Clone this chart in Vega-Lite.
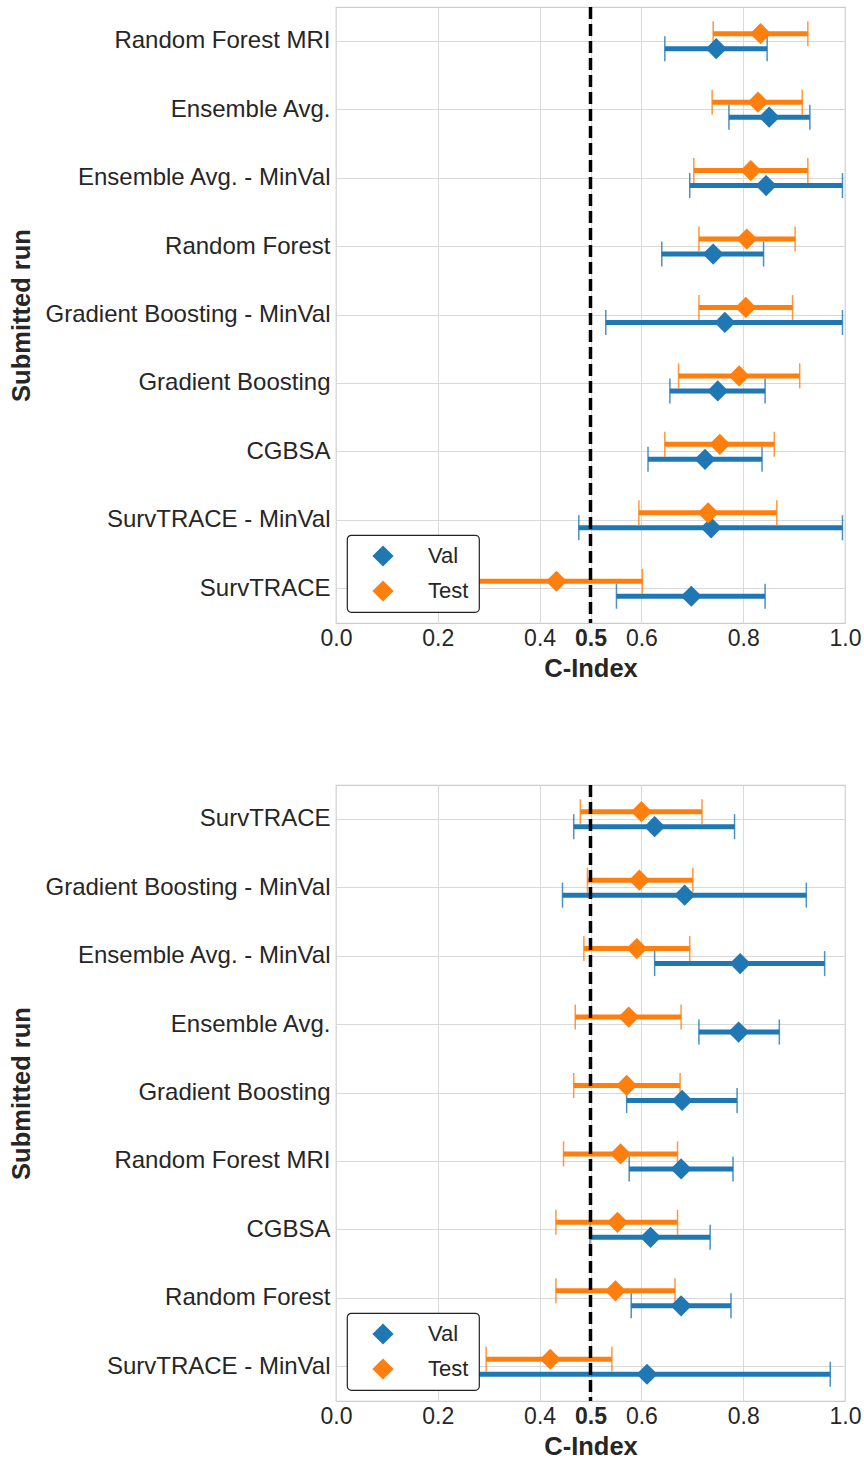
{
  "$schema": "https://vega.github.io/schema/vega-lite/v6.json",
  "padding": {"left": 8, "top": 4, "right": 14, "bottom": 2},
  "background": "white",
  "datasets": {
    "top": [
      {"run": "Random Forest MRI", "set": "Val", "lo": 0.646, "c": 0.747, "hi": 0.847},
      {"run": "Random Forest MRI", "set": "Test", "lo": 0.741, "c": 0.834, "hi": 0.927},
      {"run": "Ensemble Avg.", "set": "Val", "lo": 0.772, "c": 0.851, "hi": 0.931},
      {"run": "Ensemble Avg.", "set": "Test", "lo": 0.739, "c": 0.829, "hi": 0.916},
      {"run": "Ensemble Avg. - MinVal", "set": "Val", "lo": 0.695, "c": 0.845, "hi": 0.995},
      {"run": "Ensemble Avg. - MinVal", "set": "Test", "lo": 0.703, "c": 0.815, "hi": 0.927},
      {"run": "Random Forest", "set": "Val", "lo": 0.640, "c": 0.741, "hi": 0.840},
      {"run": "Random Forest", "set": "Test", "lo": 0.713, "c": 0.807, "hi": 0.902},
      {"run": "Gradient Boosting - MinVal", "set": "Val", "lo": 0.530, "c": 0.764, "hi": 0.995},
      {"run": "Gradient Boosting - MinVal", "set": "Test", "lo": 0.713, "c": 0.805, "hi": 0.897},
      {"run": "Gradient Boosting", "set": "Val", "lo": 0.656, "c": 0.750, "hi": 0.843},
      {"run": "Gradient Boosting", "set": "Test", "lo": 0.673, "c": 0.792, "hi": 0.911},
      {"run": "CGBSA", "set": "Val", "lo": 0.613, "c": 0.725, "hi": 0.837},
      {"run": "CGBSA", "set": "Test", "lo": 0.646, "c": 0.754, "hi": 0.861},
      {"run": "SurvTRACE - MinVal", "set": "Val", "lo": 0.477, "c": 0.737, "hi": 0.995},
      {"run": "SurvTRACE - MinVal", "set": "Test", "lo": 0.595, "c": 0.731, "hi": 0.866},
      {"run": "SurvTRACE", "set": "Val", "lo": 0.551, "c": 0.698, "hi": 0.843},
      {"run": "SurvTRACE", "set": "Test", "lo": 0.264, "c": 0.433, "hi": 0.602}
    ],
    "bottom": [
      {"run": "SurvTRACE", "set": "Val", "lo": 0.467, "c": 0.626, "hi": 0.783},
      {"run": "SurvTRACE", "set": "Test", "lo": 0.480, "c": 0.600, "hi": 0.719},
      {"run": "Gradient Boosting - MinVal", "set": "Val", "lo": 0.445, "c": 0.685, "hi": 0.924},
      {"run": "Gradient Boosting - MinVal", "set": "Test", "lo": 0.494, "c": 0.596, "hi": 0.701},
      {"run": "Ensemble Avg. - MinVal", "set": "Val", "lo": 0.626, "c": 0.794, "hi": 0.960},
      {"run": "Ensemble Avg. - MinVal", "set": "Test", "lo": 0.487, "c": 0.591, "hi": 0.695},
      {"run": "Ensemble Avg.", "set": "Val", "lo": 0.713, "c": 0.791, "hi": 0.871},
      {"run": "Ensemble Avg.", "set": "Test", "lo": 0.470, "c": 0.575, "hi": 0.678},
      {"run": "Gradient Boosting", "set": "Val", "lo": 0.571, "c": 0.680, "hi": 0.788},
      {"run": "Gradient Boosting", "set": "Test", "lo": 0.467, "c": 0.571, "hi": 0.676},
      {"run": "Random Forest MRI", "set": "Val", "lo": 0.576, "c": 0.678, "hi": 0.780},
      {"run": "Random Forest MRI", "set": "Test", "lo": 0.447, "c": 0.559, "hi": 0.671},
      {"run": "CGBSA", "set": "Val", "lo": 0.499, "c": 0.618, "hi": 0.735},
      {"run": "CGBSA", "set": "Test", "lo": 0.432, "c": 0.553, "hi": 0.671},
      {"run": "Random Forest", "set": "Val", "lo": 0.580, "c": 0.678, "hi": 0.776},
      {"run": "Random Forest", "set": "Test", "lo": 0.432, "c": 0.549, "hi": 0.666},
      {"run": "SurvTRACE - MinVal", "set": "Val", "lo": 0.251, "c": 0.611, "hi": 0.971},
      {"run": "SurvTRACE - MinVal", "set": "Test", "lo": 0.295, "c": 0.421, "hi": 0.542}
    ]
  },
  "spacing": 99,
  "vconcat": [
    {
      "width": 509,
      "height": 616,
      "data": {"name": "top"},
      "encoding": {
        "y": {"field": "run", "type": "nominal", "title": "Submitted run",
              "scale": {"domain": ["Random Forest MRI", "Ensemble Avg.", "Ensemble Avg. - MinVal", "Random Forest", "Gradient Boosting - MinVal", "Gradient Boosting", "CGBSA", "SurvTRACE - MinVal", "SurvTRACE"], "paddingInner": 0, "paddingOuter": 0},
              "axis": {"grid": true, "titleX": -315, "titleY": 308, "titleAngle": -90, "titleAlign": "center", "titleBaseline": "middle"}},
        "yOffset": {"field": "set", "type": "nominal", "scale": {"type": "point", "domain": ["Test", "Val"], "range": [26.7, 41.7], "padding": 0}}
      },
      "layer": [
        {"mark": {"type": "rule", "strokeWidth": 5}, "encoding": {
          "x": {"field": "lo", "type": "quantitative", "title": "C-Index", "scale": {"domain": [0, 1], "nice": false}, "axis": {"values": [0, 0.2, 0.4, 0.5, 0.6, 0.8, 1.0], "format": ".1f", "labelFontWeight": {"condition": {"test": "datum.value == 0.5", "value": "bold"}, "value": "normal"}}},
          "x2": {"field": "hi"},
          "stroke": {"field": "set", "type": "nominal", "scale": {"domain": ["Test", "Val"], "range": ["#ff7f0e", "#1f77b4"]}, "legend": null}}},
        {"mark": {"type": "point", "shape": "M0,-1L0,1", "filled": false, "size": 625, "strokeWidth": 1.5, "opacity": 0.8}, "encoding": {"x": {"field": "lo", "type": "quantitative"}, "stroke": {"field": "set", "type": "nominal", "legend": null}}},
        {"mark": {"type": "point", "shape": "M0,-1L0,1", "filled": false, "size": 625, "strokeWidth": 1.5, "opacity": 0.8}, "encoding": {"x": {"field": "hi", "type": "quantitative"}, "stroke": {"field": "set", "type": "nominal", "legend": null}}},
        {"mark": {"type": "point", "shape": "diamond", "filled": true, "size": 450, "opacity": 1}, "encoding": {
          "x": {"field": "c", "type": "quantitative"},
          "color": {"field": "set", "type": "nominal", "scale": {"domain": ["Val", "Test"], "range": ["#1f77b4", "#ff7f0e"]}, "legend": {"title": null, "orient": "none", "legendX": 11, "legendY": 528, "symbolType": "diamond"}}}},
        {"data": {"values": [{"v": 0.5}]}, "mark": {"type": "rule", "color": "black", "strokeWidth": 3.5, "strokeDash": [12, 5]}, "encoding": {"x": {"field": "v", "type": "quantitative"}, "y": {"value": 0}, "y2": {"value": 616}, "yOffset": null}}
      ]
    },
    {
      "width": 509,
      "height": 616,
      "data": {"name": "bottom"},
      "encoding": {
        "y": {"field": "run", "type": "nominal", "title": "Submitted run",
              "scale": {"domain": ["SurvTRACE", "Gradient Boosting - MinVal", "Ensemble Avg. - MinVal", "Ensemble Avg.", "Gradient Boosting", "Random Forest MRI", "CGBSA", "Random Forest", "SurvTRACE - MinVal"], "paddingInner": 0, "paddingOuter": 0},
              "axis": {"grid": true, "titleX": -315, "titleY": 308, "titleAngle": -90, "titleAlign": "center", "titleBaseline": "middle"}},
        "yOffset": {"field": "set", "type": "nominal", "scale": {"type": "point", "domain": ["Test", "Val"], "range": [26.7, 41.7], "padding": 0}}
      },
      "layer": [
        {"mark": {"type": "rule", "strokeWidth": 5}, "encoding": {
          "x": {"field": "lo", "type": "quantitative", "title": "C-Index", "scale": {"domain": [0, 1], "nice": false}, "axis": {"values": [0, 0.2, 0.4, 0.5, 0.6, 0.8, 1.0], "format": ".1f", "labelFontWeight": {"condition": {"test": "datum.value == 0.5", "value": "bold"}, "value": "normal"}}},
          "x2": {"field": "hi"},
          "stroke": {"field": "set", "type": "nominal", "scale": {"domain": ["Test", "Val"], "range": ["#ff7f0e", "#1f77b4"]}, "legend": null}}},
        {"mark": {"type": "point", "shape": "M0,-1L0,1", "filled": false, "size": 625, "strokeWidth": 1.5, "opacity": 0.8}, "encoding": {"x": {"field": "lo", "type": "quantitative"}, "stroke": {"field": "set", "type": "nominal", "legend": null}}},
        {"mark": {"type": "point", "shape": "M0,-1L0,1", "filled": false, "size": 625, "strokeWidth": 1.5, "opacity": 0.8}, "encoding": {"x": {"field": "hi", "type": "quantitative"}, "stroke": {"field": "set", "type": "nominal", "legend": null}}},
        {"mark": {"type": "point", "shape": "diamond", "filled": true, "size": 450, "opacity": 1}, "encoding": {
          "x": {"field": "c", "type": "quantitative"},
          "color": {"field": "set", "type": "nominal", "scale": {"domain": ["Val", "Test"], "range": ["#1f77b4", "#ff7f0e"]}, "legend": {"title": null, "orient": "none", "legendX": 11, "legendY": 528, "symbolType": "diamond"}}}},
        {"data": {"values": [{"v": 0.5}]}, "mark": {"type": "rule", "color": "black", "strokeWidth": 3.5, "strokeDash": [12, 5]}, "encoding": {"x": {"field": "v", "type": "quantitative"}, "y": {"value": 0}, "y2": {"value": 616}, "yOffset": null}}
      ]
    }
  ],
  "resolve": {"scale": {"color": "independent", "stroke": "independent", "x": "independent", "y": "independent", "yOffset": "independent"}, "legend": {"color": "independent"}},
  "config": {
    "font": "Liberation Sans",
    "view": {"stroke": "#cccccc", "strokeWidth": 1.25},
    "axis": {"labelFont": "Liberation Sans", "titleFont": "Liberation Sans", "labelColor": "#262626", "titleColor": "#262626", "gridColor": "#d9d9d9", "gridWidth": 1, "domain": false, "ticks": false, "labelOverlap": false},
    "axisX": {"labelFontSize": 23, "titleFontSize": 25.5, "titleFontWeight": "bold", "labelPadding": 4, "titlePadding": 6, "labelFlush": false},
    "axisY": {"labelFontSize": 24, "titleFontSize": 25.5, "titleFontWeight": "bold", "labelPadding": 6, "titlePadding": 10, "labelLimit": 400},
    "legend": {"labelFont": "Liberation Sans", "labelFontSize": 22, "labelColor": "#262626", "symbolSize": 450, "symbolOpacity": 1, "symbolStrokeWidth": 0, "fillColor": "white", "strokeColor": "#222222", "strokeWidth": 1.2, "cornerRadius": 4, "padding": 10, "rowPadding": 13, "symbolOffset": 15, "labelOffset": 34}
  }
}
